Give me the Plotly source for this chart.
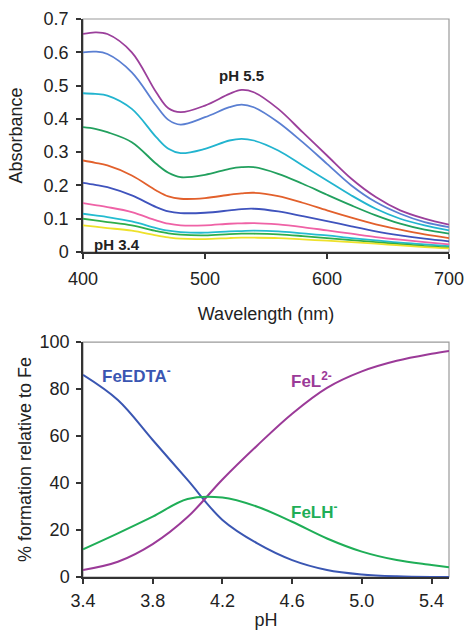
import plotly.graph_objects as go

# ---------- data: absorbance spectra ----------
wavelength = [400, 410, 420, 440, 460, 470, 480, 500, 520, 530, 540, 560, 580, 600, 620, 640, 660, 680, 700]
spectra = [
    [0.655, 0.660, 0.655, 0.600, 0.480, 0.432, 0.420, 0.440, 0.475, 0.487, 0.480, 0.430, 0.360, 0.290, 0.220, 0.165, 0.125, 0.100, 0.082],
    [0.600, 0.602, 0.595, 0.540, 0.440, 0.397, 0.383, 0.405, 0.435, 0.443, 0.435, 0.390, 0.330, 0.265, 0.200, 0.150, 0.115, 0.090, 0.075],
    [0.477, 0.475, 0.470, 0.430, 0.345, 0.310, 0.297, 0.310, 0.335, 0.340, 0.335, 0.305, 0.260, 0.215, 0.170, 0.130, 0.100, 0.080, 0.065],
    [0.375, 0.370, 0.360, 0.330, 0.265, 0.238, 0.225, 0.232, 0.250, 0.255, 0.255, 0.235, 0.205, 0.172, 0.140, 0.110, 0.085, 0.067, 0.055],
    [0.275, 0.268, 0.260, 0.230, 0.185, 0.167, 0.160, 0.162, 0.172, 0.176, 0.178, 0.168, 0.148, 0.125, 0.103, 0.083, 0.067, 0.053, 0.042],
    [0.208, 0.202, 0.195, 0.170, 0.135, 0.122, 0.117, 0.118, 0.125, 0.129, 0.130, 0.122, 0.108, 0.093, 0.077, 0.062, 0.050, 0.040, 0.032],
    [0.147, 0.141, 0.135, 0.120, 0.095, 0.085, 0.080, 0.080, 0.085, 0.086, 0.087, 0.083, 0.075, 0.065, 0.055, 0.045, 0.037, 0.030, 0.023],
    [0.115, 0.110, 0.105, 0.092, 0.072, 0.064, 0.060, 0.058, 0.062, 0.063, 0.064, 0.062, 0.056, 0.050, 0.042, 0.035, 0.028, 0.023, 0.018],
    [0.100, 0.095, 0.090, 0.080, 0.063, 0.056, 0.052, 0.050, 0.054, 0.055, 0.055, 0.053, 0.048, 0.042, 0.036, 0.030, 0.024, 0.018, 0.014],
    [0.080, 0.076, 0.072, 0.064, 0.050, 0.044, 0.040, 0.039, 0.042, 0.043, 0.043, 0.042, 0.038, 0.034, 0.030, 0.025, 0.020, 0.015, 0.011],
]
spectra_colors = ["#9b3f9b", "#5a7fd2", "#22b4cf", "#22a05e", "#e2602c",
                  "#3f53bd", "#ef62a6", "#24bcd0", "#2fae4a", "#eee12a"]

# ---------- data: speciation ----------
ph = [3.4, 3.6, 3.8, 4.0, 4.2, 4.4, 4.6, 4.8, 5.0, 5.2, 5.4, 5.5]
fe_edta = [86.0, 75.3, 58.3, 41.3, 24.3, 14.3, 7.2, 3.0, 1.1, 0.3, 0.0, 0.0]
fe_l = [3.0, 6.5, 14.0, 25.5, 41.5, 56.0, 69.5, 80.5, 87.5, 92.0, 95.0, 96.2]
fe_lh = [11.8, 18.6, 25.7, 33.2, 33.8, 29.9, 23.5, 16.4, 10.8, 7.2, 5.1, 4.1]

fig = go.Figure()

for vals, col in zip(spectra, spectra_colors):
    fig.add_trace(go.Scatter(x=wavelength, y=vals, mode="lines",
                             line=dict(color=col, width=1.8, shape="spline", smoothing=1.0),
                             xaxis="x", yaxis="y", showlegend=False, hoverinfo="skip"))

fig.add_trace(go.Scatter(x=ph, y=fe_edta, mode="lines",
                         line=dict(color="#3a56b2", width=2, shape="spline"),
                         xaxis="x2", yaxis="y2", showlegend=False))
fig.add_trace(go.Scatter(x=ph, y=fe_l, mode="lines",
                         line=dict(color="#9b3a98", width=2, shape="spline"),
                         xaxis="x2", yaxis="y2", showlegend=False))
fig.add_trace(go.Scatter(x=ph, y=fe_lh, mode="lines",
                         line=dict(color="#1fae57", width=2, shape="spline"),
                         xaxis="x2", yaxis="y2", showlegend=False))

font_family = "Liberation Sans, Arial, sans-serif"
tick_font = dict(family=font_family, size=18, color="#222222")
title_font = dict(family=font_family, size=18, color="#222222")

axis_common = dict(showline=True, linecolor="#333333", linewidth=1.5,
                   ticks="outside", ticklen=5, tickwidth=1.5, tickcolor="#333333",
                   showgrid=False, zeroline=False, tickfont=tick_font, mirror=False,
                   automargin=False)

fig.update_layout(
    width=466, height=633,
    margin=dict(l=83, r=17, t=19, b=56),
    paper_bgcolor="white", plot_bgcolor="white",
    xaxis=dict(domain=[0, 1], anchor="y", range=[400, 700], tickvals=[400, 500, 600, 700],
               ticklabelstandoff=5,
               title=dict(text="Wavelength (nm)", font=title_font, standoff=19), **axis_common),
    yaxis=dict(domain=[0.5824, 1], anchor="x", range=[0, 0.7],
               tickvals=[0, 0.1, 0.2, 0.3, 0.4, 0.5, 0.6, 0.7],
               ticktext=["0", "0.1", "0.2", "0.3", "0.4", "0.5", "0.6", "0.7"],
               ticklabelstandoff=4,
               title=dict(text="Absorbance", font=title_font, standoff=16), **axis_common),
    xaxis2=dict(domain=[0, 1], anchor="y2", range=[3.4, 5.5],
                tickvals=[3.4, 3.8, 4.2, 4.6, 5.0, 5.4],
                ticktext=["3.4", "3.8", "4.2", "4.6", "5.0", "5.4"],
                ticklabelstandoff=2,
                title=dict(text="pH", font=title_font, standoff=3), **axis_common),
    yaxis2=dict(domain=[0, 0.4211], anchor="x2", range=[0, 100],
                tickvals=[0, 20, 40, 60, 80, 100],
                ticklabelstandoff=3,
                title=dict(text="% formation relative to Fe", font=title_font, standoff=3), **axis_common),
    shapes=[
        dict(type="rect", xref="x domain", yref="y domain", x0=0, x1=1, y0=0, y1=1,
             line=dict(color="#9a9a9a", width=1.2), layer="below"),
        dict(type="rect", xref="x2 domain", yref="y2 domain", x0=0, x1=1, y0=0, y1=1,
             line=dict(color="#9a9a9a", width=1.2), layer="below"),
    ],
    annotations=[
        dict(text="<b>pH 5.5</b>", x=530, y=0.487, xref="x", yref="y", yshift=14,
             showarrow=False, font=dict(family=font_family, size=15, color="#222222")),
        dict(text="<b>pH 3.4</b>", x=428, y=0.0, xref="x", yref="y", yshift=8,
             showarrow=False, font=dict(family=font_family, size=15, color="#222222")),
        dict(text="<b>FeEDTA<sup>-</sup></b>", x=3.5, y=86, xref="x2", yref="y2",
             xanchor="left", showarrow=False,
             font=dict(family=font_family, size=17, color="#3a56b2")),
        dict(text="<b>FeL<sup>2-</sup></b>", x=4.58, y=84, xref="x2", yref="y2",
             xanchor="left", showarrow=False,
             font=dict(family=font_family, size=17, color="#9b3a98")),
        dict(text="<b>FeLH<sup>-</sup></b>", x=4.58, y=28, xref="x2", yref="y2",
             xanchor="left", showarrow=False,
             font=dict(family=font_family, size=17, color="#1fae57")),
    ],
)

fig.write_html("out.html", config={"displayModeBar": False},
               post_script="document.body.style.margin='0px';")
